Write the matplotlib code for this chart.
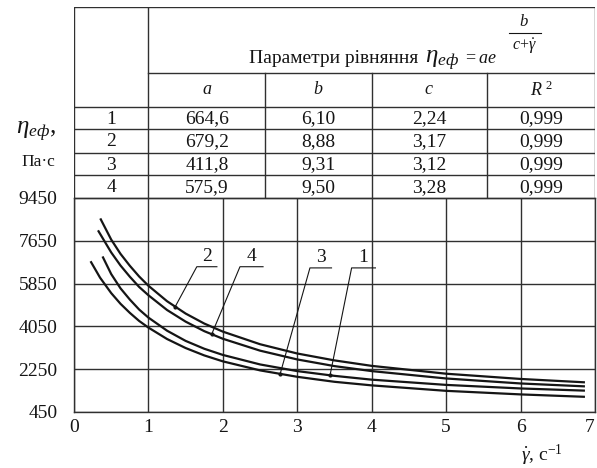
import matplotlib
matplotlib.use("Agg")
import matplotlib.pyplot as plt
import numpy as np

plt.rcParams['font.family'] = ['Liberation Serif', 'DejaVu Serif']
plt.rcParams['mathtext.fontset'] = 'custom'
plt.rcParams['mathtext.rm'] = 'Liberation Serif'
plt.rcParams['mathtext.it'] = 'Liberation Serif:italic'
plt.rcParams['mathtext.bf'] = 'Liberation Serif:bold'

# curves: shear rate (1/s) and effective viscosity (Pa*s)
x_1 = [0.39, 0.5, 0.625, 0.75, 0.875, 1.0, 1.25, 1.5, 1.75, 2.0, 2.5, 3.0, 3.5, 4.0, 5.0, 6.0, 6.85]
eta_1 = [6950, 6250, 5650, 5180, 4760, 4420, 3870, 3440, 3110, 2850, 2450, 2170, 1970, 1810, 1590, 1440, 1350]

x_2 = [0.36, 0.5, 0.625, 0.75, 0.875, 1.0, 1.25, 1.5, 1.75, 2.0, 2.5, 3.0, 3.5, 4.0, 5.0, 6.0, 6.85]
eta_2 = [8550, 7700, 7100, 6600, 6150, 5760, 5110, 4590, 4170, 3830, 3300, 2910, 2620, 2390, 2060, 1840, 1700]

x_3 = [0.23, 0.35, 0.5, 0.625, 0.75, 0.875, 1.0, 1.25, 1.5, 1.75, 2.0, 2.5, 3.0, 3.5, 4.0, 5.0, 6.0, 6.85]
eta_3 = [6750, 6100, 5450, 5000, 4620, 4280, 4000, 3520, 3140, 2830, 2580, 2200, 1930, 1720, 1570, 1340, 1190, 1090]

x_4 = [0.33, 0.5, 0.625, 0.75, 0.875, 1.0, 1.25, 1.5, 1.75, 2.0, 2.5, 3.0, 3.5, 4.0, 5.0, 6.0, 6.85]
eta_4 = [8050, 7160, 6610, 6140, 5710, 5360, 4740, 4250, 3850, 3530, 3030, 2660, 2380, 2170, 1860, 1650, 1530]

# fitted parameters, table above the chart
curve_ids = ["1", "2", "3", "4"]
a_vals = ["664,6", "679,2", "411,8", "575,9"]
b_vals = ["6,10", "8,88", "9,31", "9,50"]
c_vals = ["2,24", "3,17", "3,12", "3,28"]
r2_vals = ["0,999", "0,999", "0,999", "0,999"]

x_ticks = [0, 1, 2, 3, 4, 5, 6, 7]
y_ticks = [450, 2250, 4050, 5850, 7650, 9450]

W, H = 597, 468
fig = plt.figure(figsize=(W / 100, H / 100), dpi=100)

def fx(px):
    return px / W

def fy(py):
    return 1 - py / H

ink = '#151515'
grid_c = '#303030'

# main chart
ax = fig.add_axes([fx(74), fy(412), fx(595) - fx(74), fy(198) - fy(412)])
ax.set_xlim(0, 7)
ax.set_ylim(450, 9450)
ax.set_xticks(x_ticks)
ax.set_yticks(y_ticks)
ax.grid(True, color=grid_c, linewidth=1.0)
ax.set_axisbelow(True)
for sp in ax.spines.values():
    sp.set_color(grid_c)
    sp.set_linewidth(1.0)
ax.tick_params(length=0, labelsize=14, colors=ink)
ax.tick_params(axis='y', pad=12)
ax.tick_params(axis='x', pad=5)
last = ax.get_xticklabels()[-1]
last.set_horizontalalignment('right')

series = [(x_1, eta_1), (x_2, eta_2), (x_3, eta_3), (x_4, eta_4)]
for xs, ys in series:
    ax.plot(xs, ys, color=ink, linewidth=1.6)

# leader lines with curve numbers
leaders = [
    ("2", 1, 1.36, 1.65, 1.92, 6560),
    ("4", 3, 1.85, 2.23, 2.54, 6560),
    ("3", 2, 2.77, 3.17, 3.46, 6510),
    ("1", 0, 3.44, 3.73, 4.05, 6510),
]
for lab, idx, xe, xk, xr, yk in leaders:
    xs, ys = series[idx]
    ye = np.interp(xe, xs, ys)
    ax.plot([xe, xk, xr], [ye, yk, yk], color=ink, linewidth=0.8)
    ax.plot([xe], [ye], 'o', color=ink, markersize=2)
    ax.text((xk + xr) / 2, yk + 60, lab, ha='center', va='bottom', fontsize=14, color=ink)

# table
tb = fig.add_axes([fx(74), fy(198), fx(595) - fx(74), fy(7) - fy(198)])
tb.set_xlim(0, 7)
tb.set_ylim(198, 7)
tb.axis('off')
lw = 1.0
cols = [0, 1, 2.57, 4, 5.55, 7]
rows = [107, 129, 153, 175, 198]
tb.plot([0, 7], [7, 7], color=grid_c, lw=lw)
tb.plot([1, 7], [73, 73], color=grid_c, lw=lw)
for r in rows:
    tb.plot([0, 7], [r, r], color=grid_c, lw=lw)
for c in [0, 1, 7]:
    tb.plot([c, c], [7, 198], color=grid_c, lw=lw)
for c in [2.57, 4, 5.55]:
    tb.plot([c, c], [73, 198], color=grid_c, lw=lw)

centers = [(cols[i] + cols[i + 1]) / 2 for i in range(5)]
row_mid = [(rows[i] + rows[i + 1]) / 2 + 1 for i in range(4)]
heads = ['$a$', '$b$', '$c$', '$R^{\\ 2}$']
for i, h in enumerate(heads):
    tb.text(centers[i + 1], 90, h, ha='center', va='center', fontsize=13, color=ink)
for j in range(4):
    vals = [curve_ids[j], a_vals[j], b_vals[j], c_vals[j], r2_vals[j]]
    for i, v in enumerate(vals):
        tb.text(centers[i], row_mid[j], v, ha='center', va='center', fontsize=14, color=ink)

tb.text(2.35, 63, 'Параметри рівняння', ha='left', va='baseline', fontsize=14, color=ink)
tb.text(4.72, 63, r'$\eta_{еф}$', ha='left', va='baseline', fontsize=18, color=ink)
tb.text(5.22, 63, r'$=ae$', ha='left', va='baseline', fontsize=13, color=ink)
tb.text(6.05, 30, r'$b$', ha='center', va='bottom', fontsize=12, color=ink)
tb.plot([5.84, 6.27], [33, 33], color=ink, lw=0.8)
tb.text(6.05, 36, r'$c\!+\!\dot{\gamma}$', ha='center', va='top', fontsize=11.5, color=ink)

# axis labels
fig.text(fx(16), fy(134), r'$\eta_{еф}$,', ha='left', va='baseline', fontsize=18, color=ink)
fig.text(fx(38), fy(162), 'Па·с', ha='center', va='center', fontsize=12.5, color=ink)
fig.text(fx(542), fy(455), r'$\dot{\gamma}$, с$^{-1}$', ha='center', va='center', fontsize=14, color=ink)

fig.savefig('out.png', dpi=100, facecolor='white')
